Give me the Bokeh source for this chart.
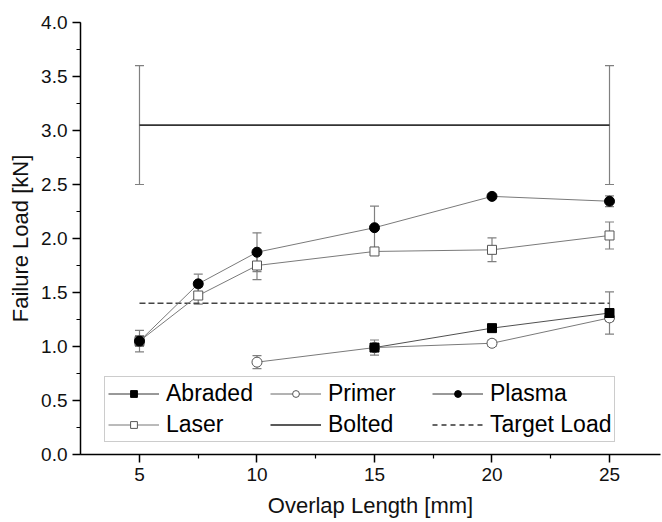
from bokeh.plotting import figure
from bokeh.models import (Range1d, FixedTicker, SingleIntervalTicker, Whisker, TeeHead,
                          ColumnDataSource, Legend, LegendItem, NumeralTickFormatter)
from bokeh.embed import file_html
from bokeh.resources import INLINE

# ---- data ----
abraded_x = [15, 20, 25]
abraded_y = [0.99, 1.17, 1.31]
abraded_err = [0.07, 0.03, 0.195]

primer_x = [10, 15, 20, 25]
primer_y = [0.855, 0.99, 1.03, 1.265]
primer_err = [0.06, 0.03, 0.03, 0.03]

plasma_x = [5, 7.5, 10, 15, 20, 25]
plasma_y = [1.05, 1.58, 1.873, 2.10, 2.39, 2.345]
plasma_err = [0.1, 0.09, 0.18, 0.2, 0.0, 0.05]

laser_x = [5, 7.5, 10, 15, 20, 25]
laser_y = [1.05, 1.472, 1.75, 1.88, 1.895, 2.028]
laser_err = [0.05, 0.08, 0.13, 0.02, 0.11, 0.125]

bolted_x = [5, 25]
bolted_y = [3.05, 3.05]
bolted_err = [0.55, 0.55]

target_x = [5, 25]
target_y = [1.40, 1.40]

x_ticks = [5, 10, 15, 20, 25]
x_minor = [7.5, 12.5, 17.5, 22.5, 27.5]

FONT = "Liberation Sans"
LINE_GRAY = "#7a7a7a"
ERR_GRAY = "#808080"

p = figure(width=662, height=522, output_backend="svg", toolbar_location=None,
           x_range=Range1d(2.49, 27.17), y_range=Range1d(0, 4.0),
           min_border_left=80, min_border_right=2, min_border_top=22, min_border_bottom=68)
p.outline_line_color = None
p.xgrid.visible = False
p.ygrid.visible = False
p.background_fill_color = "white"
p.border_fill_color = "white"
# range used only by legend proxy glyphs (maps everything outside the frame)
p.extra_y_ranges = {"legend_proxy": Range1d(100, 101)}


def whiskers(xs, ys, errs):
    src = ColumnDataSource(dict(x=xs, up=[y + e for y, e in zip(ys, errs)],
                                lo=[y - e for y, e in zip(ys, errs)]))
    w = Whisker(source=src, base="x", upper="up", lower="lo", dimension="height",
                line_color=ERR_GRAY, line_width=1.2,
                upper_head=TeeHead(size=9, line_color=ERR_GRAY, line_width=1.2),
                lower_head=TeeHead(size=9, line_color=ERR_GRAY, line_width=1.2))
    p.add_layout(w)


for xs, ys, es in [(bolted_x, bolted_y, bolted_err), (abraded_x, abraded_y, abraded_err),
                   (primer_x, primer_y, primer_err), (plasma_x, plasma_y, plasma_err),
                   (laser_x, laser_y, laser_err)]:
    whiskers(xs, ys, es)

r_bolt = p.line(bolted_x, bolted_y, line_color="#333333", line_width=1.7)
r_targ = p.line(target_x, target_y, line_color="#444444", line_width=1.6, line_dash="6 3")

r_ab_l = p.line(abraded_x, abraded_y, line_color="#505050", line_width=1.0)
r_pr_l = p.line(primer_x, primer_y, line_color=LINE_GRAY, line_width=1.0)
r_pl_l = p.line(plasma_x, plasma_y, line_color=LINE_GRAY, line_width=1.0)
r_la_l = p.line(laser_x, laser_y, line_color=LINE_GRAY, line_width=1.0)

r_pr_m = p.scatter(primer_x, primer_y, marker="circle", size=10, fill_color="white",
                   line_color="#555555", line_width=1.0)
r_la_m = p.scatter(laser_x, laser_y, marker="square", size=9, fill_color="white",
                   line_color="#555555", line_width=1.0)
r_ab_m = p.scatter(abraded_x, abraded_y, marker="square", size=9, fill_color="black",
                   line_color="black", line_width=1.0)
r_pl_m = p.scatter(plasma_x, plasma_y, marker="circle", size=10, fill_color="black",
                   line_color="black", line_width=1.0)

# smaller legend glyphs: same data, drawn on a range that puts them off-frame
PR = "legend_proxy"
lg_ab_l = p.line(abraded_x, abraded_y, y_range_name=PR, line_color="#333333", line_width=1.0)
lg_ab_m = p.scatter(abraded_x, abraded_y, y_range_name=PR, marker="square", size=7,
                    fill_color="black", line_color="black")
lg_pr_l = p.line(primer_x, primer_y, y_range_name=PR, line_color="#666666", line_width=1.0)
lg_pr_m = p.scatter(primer_x, primer_y, y_range_name=PR, marker="circle", size=8,
                    fill_color="white", line_color="#555555")
lg_pl_l = p.line(plasma_x, plasma_y, y_range_name=PR, line_color="#333333", line_width=1.0)
lg_pl_m = p.scatter(plasma_x, plasma_y, y_range_name=PR, marker="circle", size=7,
                    fill_color="black", line_color="black")
lg_la_l = p.line(laser_x, laser_y, y_range_name=PR, line_color="#777777", line_width=1.0)
lg_la_m = p.scatter(laser_x, laser_y, y_range_name=PR, marker="square", size=7,
                    fill_color="white", line_color="#555555")
lg_bo = p.line(bolted_x, bolted_y, y_range_name=PR, line_color="#222222", line_width=1.6)
lg_ta = p.line(target_x, target_y, y_range_name=PR, line_color="#333333", line_width=1.4,
               line_dash="5 4")

legend = Legend(items=[
    LegendItem(label="Abraded", renderers=[lg_ab_l, lg_ab_m]),
    LegendItem(label="Primer", renderers=[lg_pr_l, lg_pr_m]),
    LegendItem(label="Plasma", renderers=[lg_pl_l, lg_pl_m]),
    LegendItem(label="Laser", renderers=[lg_la_l, lg_la_m]),
    LegendItem(label="Bolted", renderers=[lg_bo]),
    LegendItem(label="Target Load", renderers=[lg_ta]),
], orientation="horizontal", ncols=3, location=(24, 12))
legend.label_text_font = FONT
legend.label_text_font_size = "23px"
legend.label_text_color = "black"
legend.glyph_width = 51
legend.glyph_height = 17
legend.label_height = 24
legend.label_standoff = 7
legend.label_width = 100
legend.spacing = 4
legend.padding = 3
legend.margin = 0
legend.border_line_color = "#999999"
legend.border_line_width = 1.5
legend.background_fill_color = "white"
legend.background_fill_alpha = 1.0
p.add_layout(legend, "center")

# axes
xa = p.xaxis[0]
xa.ticker = FixedTicker(ticks=x_ticks, minor_ticks=x_minor)
xa.axis_label = "Overlap Length [mm]"
ya = p.yaxis[0]
ya.ticker = SingleIntervalTicker(interval=0.5, num_minor_ticks=2)
ya.formatter = NumeralTickFormatter(format="0.0")
ya.axis_label = "Failure Load [kN]"
for ax in (xa, ya):
    ax.axis_line_color = "black"
    ax.axis_line_width = 1.5
    ax.major_tick_line_color = "black"
    ax.major_tick_line_width = 1.5
    ax.minor_tick_line_color = "black"
    ax.minor_tick_line_width = 1.2
    ax.major_tick_out = 8
    ax.major_tick_in = 0
    ax.minor_tick_out = 4
    ax.minor_tick_in = 0
    ax.major_label_text_font = FONT
    ax.major_label_text_font_size = "19px"
    ax.major_label_text_color = "#111111"
    ax.axis_label_text_font = FONT
    ax.axis_label_text_font_size = "22px"
    ax.axis_label_text_font_style = "normal"
    ax.axis_label_text_color = "#111111"
xa.major_label_standoff = 5
xa.axis_label_standoff = 9
ya.major_label_standoff = 5
ya.axis_label_standoff = 5

open("out.html", "w").write(file_html(p, INLINE))
